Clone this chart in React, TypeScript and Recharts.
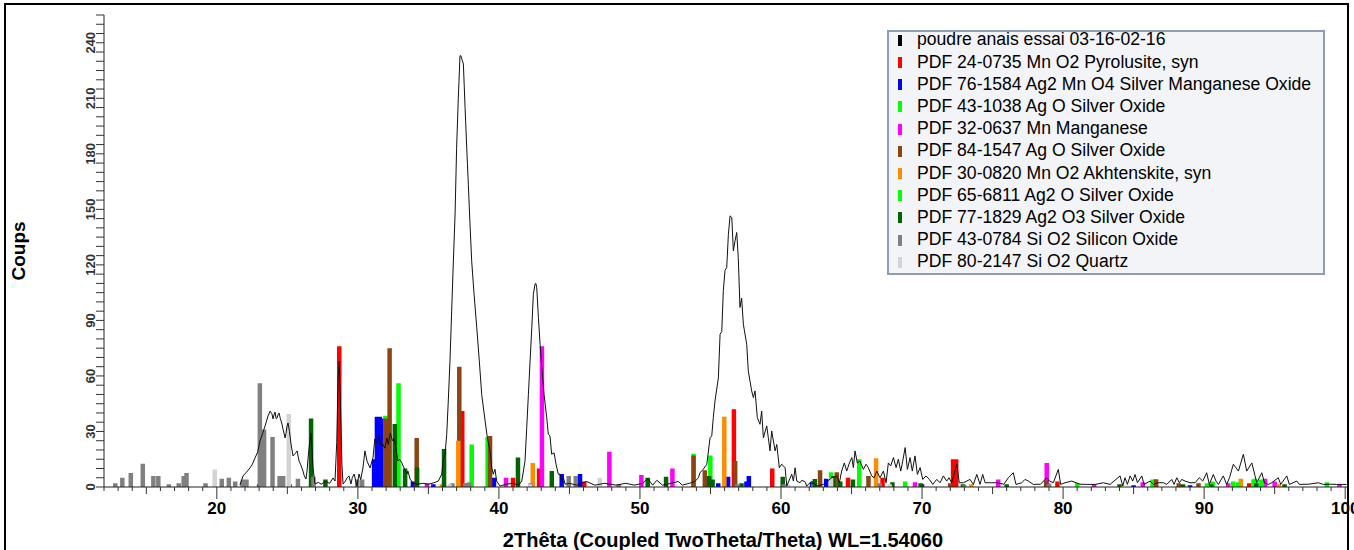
import React from 'react';
import { ComposedChart, Line, XAxis, YAxis, Legend } from 'recharts';

type Pt = [number, number];

// Measured diffractogram (2θ, counts)
const scan: Pt[] = [
  [21.64,1],[21.86,6],[22.1,8],[22.35,10.3],[22.5,12],[22.71,15.7],[22.9,19],[23.06,24.9],[23.25,29],[23.42,33],
  [23.63,38.4],[23.78,41],[23.91,39.5],[23.98,36.8],[24.06,39],[24.13,40.5],[24.2,37],[24.27,37.3],[24.34,39],[24.41,40],
  [24.5,37],[24.62,34],[24.7,31],[24.84,26.5],[24.9,29],[24.98,33],[25.05,34.6],[25.15,30],[25.26,23.2],[25.4,16.8],
  [25.55,18],[25.69,19.5],[25.83,14],[25.95,12],[26.11,8.6],[26.2,6],[26.32,4.3],[26.4,9],[26.47,15.7],[26.58,24],
  [26.68,29],[26.75,20],[26.82,10.3],[26.96,1.6],[27.2,2.5],[27.4,1.5],[27.7,3],[28.0,2],[28.24,4.9],[28.38,3.2],
  [28.5,24],[28.6,60],[28.68,68],[28.78,40],[28.87,12],[28.95,1.6],[29.1,3],[29.23,4.9],[29.37,6],[29.51,1.6],
  [29.6,5],[29.73,7],[29.94,0.5],[30.08,7],[30.2,4],[30.36,10.3],[30.5,19.5],[30.65,14],[30.86,10.3],[31.07,15.7],
  [31.2,26],[31.35,24],[31.5,27.6],[31.62,23],[31.76,23.2],[31.92,21],[32.06,26.5],[32.16,23],[32.3,29.2],[32.45,25],
  [32.55,26],[32.63,24],[32.75,18],[32.84,14],[32.95,15],[33.12,13],[33.27,10.3],[33.48,7],[33.55,8.6],[33.7,4.3],
  [33.9,2.2],[34.2,1.5],[34.6,2],[35.0,1.5],[35.35,2.2],[35.7,3.2],[35.95,7],[36.04,14],[36.18,17.7],[36.3,28.5],
  [36.41,46.5],[36.53,68],[36.65,95],[36.77,122],[36.89,147],[37.0,183],[37.12,210],[37.24,233],[37.3,233],[37.38,231],
  [37.48,228.5],[37.6,205],[37.72,183],[37.83,163.6],[37.95,142],[38.07,122],[38.24,104],[38.43,86],[38.61,68],[38.78,50],
  [39.02,35.7],[39.18,26.6],[39.37,19.5],[39.49,10.4],[39.6,6.9],[39.72,9.6],[39.84,3.2],[40.08,0.5],[40.5,1.5],[41.0,2],
  [41.4,1],[41.62,3.2],[41.85,14],[41.97,32],[42.09,50],[42.21,68],[42.33,86],[42.44,104],[42.56,109.6],[42.62,110],
  [42.68,107.7],[42.8,91.5],[42.92,77],[43.04,64.5],[43.2,50],[43.39,37.5],[43.5,28.5],[43.62,27.6],[43.74,17.7],[43.91,18.5],
  [44.05,12.3],[44.21,6.9],[44.33,6.9],[44.45,3.2],[44.57,5],[44.69,1.5],[45.0,2],[45.5,1],[46.2,3],[46.8,1],
  [47.5,2],[48.3,1],[49.0,2],[49.6,1],[50.2,2],[50.55,4.5],[50.9,1],[51.2,3.6],[51.6,1],[52.2,2],
  [52.72,3],[53.0,1],[53.5,2],[53.9,3],[54.14,5],[54.26,7.7],[54.49,9.6],[54.74,12.3],[54.97,26.6],[55.09,27.6],
  [55.2,37.5],[55.32,46.5],[55.56,59],[55.68,82.5],[55.8,84],[55.91,106],[56.03,117],[56.15,118.5],[56.27,136.6],[56.39,146.5],
  [56.51,145.6],[56.62,127.6],[56.74,133],[56.86,137.5],[56.97,124],[57.09,97],[57.21,102],[57.33,88],[57.57,77],[57.68,62.7],
  [57.92,51.9],[58.04,48.3],[58.16,51.9],[58.32,37.5],[58.51,33.9],[58.63,41],[58.75,26.6],[58.99,33],[59.1,26.6],[59.22,19.5],
  [59.34,30.3],[59.58,19.5],[59.7,23],[59.88,10.4],[60.05,12.3],[60.29,10.4],[60.41,0.5],[60.76,6.9],[60.88,3.2],[61.0,10.4],
  [61.12,3.2],[61.35,2.3],[61.47,3.6],[61.7,2.9],[61.82,0.5],[62.18,3.2],[62.53,0.5],[63.0,1.4],[63.6,5],[63.95,6],
  [64.14,2.3],[64.3,8.6],[64.49,13],[64.66,8.6],[64.85,13],[65.02,15.9],[65.13,10.5],[65.25,19.5],[65.41,13],[65.6,14],
  [65.84,9.5],[66.03,12.3],[66.19,10.5],[66.43,6],[66.6,5],[66.79,8.6],[67.02,5],[67.26,8.6],[67.45,2.3],[67.61,13],
  [67.78,11.4],[67.97,15.9],[68.16,10.5],[68.32,15],[68.49,8.6],[68.63,14],[68.8,21.3],[68.96,9.5],[69.15,15.9],[69.31,8.6],
  [69.5,16.8],[69.67,6.8],[69.86,10.5],[70.05,4.1],[70.28,6],[70.52,4.1],[70.76,1.4],[71.04,4.1],[71.28,2.3],[71.51,6],
  [71.75,3.2],[71.91,5],[72.1,2.3],[72.46,12.3],[72.64,2.3],[72.93,2.3],[73.4,4.1],[73.64,1.4],[73.88,6.8],[74.11,1.4],
  [74.3,6.8],[74.47,2.3],[74.94,2.3],[75.3,2.3],[75.8,1.5],[76.12,5],[76.47,7.7],[76.66,1.4],[77.07,2.3],[77.3,4.1],
  [77.54,3.2],[77.89,1.4],[78.4,1.5],[78.84,5],[79.03,3.2],[79.31,2.3],[79.66,9.5],[79.83,1.4],[80.14,2.3],[80.61,3.2],
  [81.2,1.5],[81.68,1.4],[82.27,1.4],[82.86,2.3],[83.33,1.4],[84.04,6],[84.23,0.5],[84.39,5],[84.56,1.4],[84.75,6],
  [84.94,3.2],[85.1,6.8],[85.27,2.3],[85.58,6],[85.74,1.4],[86.17,3.2],[86.4,1.4],[86.75,2.3],[87.11,2.3],[87.35,1.4],
  [87.7,4.1],[87.87,1.4],[88.06,5],[88.24,2.3],[88.41,4.1],[88.65,3.2],[89.0,2.3],[89.36,2.3],[89.66,5],[89.9,3.2],
  [90.18,7.7],[90.37,1.4],[90.65,6.8],[90.84,3.2],[91.01,1.4],[91.36,6],[91.6,1.4],[91.8,5],[92.07,12.3],[92.43,8.6],
  [92.78,17.7],[93.02,8.6],[93.38,13],[93.61,6],[93.73,2.3],[94.09,7.7],[94.27,2.3],[94.55,1.4],[94.79,2.3],[95.26,5],
  [95.43,1.4],[95.86,6],[96.04,1.4],[96.57,3.2],[96.75,1.4],[97.4,1.5],[98.1,2.3],[98.45,1.4],[99.0,1.5],[99.4,1.4],
  [100.1,1.4],
];

// Reference patterns (2θ, intensity on the counts scale)
const pyrolusite: Pt[] = [[28.68,76],[37.4,41],[41.0,5],[42.85,10],[46.05,3],[56.66,42],[59.38,10],[64.75,5],[67.2,5],[72.2,15],[72.42,15],[79.6,3],[86.55,4],[93.2,2]];
const ag2mno4: Pt[] = [[21.85,3],[23.0,1.5],[25.15,1.5],[31.15,15],[31.35,38],[31.55,38],[31.75,37],[33.9,3],[35.35,1.5],[39.65,5],[44.45,7],[45.75,7],[55.55,2],[56.25,5.5],[57.55,3],[57.72,6],[62.2,2.5],[63.2,4.5],[70.0,1.5],[85.0,1],[89.0,1]];
const ago43: Pt[] = [[31.95,38.5],[39.2,27],[53.8,18],[62.3,1.5],[63.55,8],[79.0,2],[86.35,4],[90.6,3],[92.05,3],[93.6,4.5],[94.0,4],[98.7,2.5]];
const manganese: Pt[] = [[34.9,2],[37.75,2],[40.5,5],[43.05,76],[47.83,19],[50.1,6.5],[52.3,10],[62.4,1.5],[64.1,1.5],[69.5,2.5],[75.4,4],[78.84,13],[82.2,1.5],[85.65,2.5],[91.7,2],[94.32,4.5],[95.0,3],[99.6,1.5]];
const ago84: Pt[] = [[31.95,37],[32.25,75],[34.17,26.5],[37.19,65],[39.37,27.5],[53.8,17],[54.6,9],[56.75,14],[62.77,9],[63.95,8],[66.2,6],[72.0,2],[78.8,3.5],[86.6,4],[88.2,2],[89.6,2]];
const akhtenskite: Pt[] = [[35.95,1.5],[37.12,25],[42.4,13],[55.98,38],[66.74,15.5],[73.5,1.5],[92.6,4.5],[95.3,1.5]];
const ag2o65: Pt[] = [[32.88,56],[38.07,23],[54.99,17],[65.55,15],[68.8,3],[81.0,2],[90.2,2],[92.4,2.5],[93.5,4],[94.1,3.5]];
const ag2o3: Pt[] = [[26.68,37],[27.7,4],[32.62,34],[33.35,10],[34.2,10.5],[36.11,20.5],[41.35,16],[43.75,8.6],[50.55,5],[51.85,5.6],[54.9,6],[55.15,4],[57.2,2],[60.12,5.5],[62.4,4.3],[63.7,6],[64.2,3],[65.1,4],[67.9,2.5],[69.9,2],[72.9,1.5],[76.0,1.5],[84.0,1.5],[88.5,1.5],[90.5,1.5],[93.7,2],[95.7,1.5]];
const sio2: Pt[] = [[12.8,2],[13.3,5],[13.9,7.5],[14.75,12.5],[15.5,6],[15.85,6],[16.6,1.5],[17.3,2],[17.65,6],[17.85,7.5],[19.2,2],[20.35,4.5],[20.85,5],[21.3,3],[21.85,4],[22.1,4],[23.05,56],[23.35,31],[23.95,27],[24.45,6],[24.7,6],[25.75,4.5],[26.85,5.5],[29.95,4],[30.3,4],[36.7,2],[37.6,2],[37.9,2.5],[42.25,2],[44.95,6],[45.45,6],[48.5,1.5],[56.9,1.5],[60.2,1.5],[67.0,2],[73.0,1],[79.0,1.5]];
const quartz: Pt[] = [[19.85,9.5],[25.1,39.5],[36.5,1.5],[42.2,1.5],[47.15,5],[60.5,1.5],[63.55,5],[67.7,1.5]];

const legendNames = [
  'poudre anais essai 03-16-02-16',
  'PDF 24-0735 Mn O2 Pyrolusite, syn',
  'PDF 76-1584 Ag2 Mn O4 Silver Manganese Oxide',
  'PDF 43-1038 Ag O Silver Oxide',
  'PDF 32-0637 Mn Manganese',
  'PDF 84-1547 Ag O Silver Oxide',
  'PDF 30-0820 Mn O2 Akhtenskite, syn',
  'PDF 65-6811 Ag2 O Silver Oxide',
  'PDF 77-1829 Ag2 O3 Silver Oxide',
  'PDF 43-0784 Si O2 Silicon Oxide',
  'PDF 80-2147 Si O2 Quartz',
];
const legendColors = ['#000000','#ff0000','#0000ff','#00ff00','#ff00ff','#8b4513','#ff8c00','#00ff00','#006400','#808080','#d3d3d3'];
const stickSets: Pt[][] = [pyrolusite, ag2mno4, ago43, manganese, ago84, akhtenskite, ag2o65, ag2o3, sio2, quartz];

const xTicks = Array.from({ length: 89 }, (_, i) => 12 + i);
const yTicks = Array.from({ length: 52 }, (_, i) => i * 5);

const FONT = '"Liberation Sans", Arial, Helvetica, sans-serif';

const toSticks = (pts: Pt[]) =>
  pts.flatMap(([x, v]) => [{ x, y: 0 }, { x, y: v }, { x, y: null }]);
const scanData = scan.map(([x, y]) => ({ x, y }));

const XTick = (props: any) => {
  const { x, y, payload } = props;
  const v = payload.value;
  const len = v % 10 === 0 ? 12 : v % 5 === 0 ? 7 : 4;
  return (
    <g>
      <line x1={x} x2={x} y1={y} y2={y + len} stroke="#333" strokeWidth={1} />
      {v % 10 === 0 && (
        <text x={x} y={y + 27} textAnchor="middle" fontSize={17} fontWeight="bold" fill="#000" fontFamily={FONT}>
          {v}
        </text>
      )}
    </g>
  );
};

const YTick = (props: any) => {
  const { x, y, payload } = props;
  const v = payload.value;
  return (
    <g>
      <line x1={x - 8} x2={x} y1={y} y2={y} stroke="#333" strokeWidth={1} />
      {v % 30 === 0 && (
        <text transform={`translate(${x - 9},${y}) rotate(-90)`} textAnchor="middle" fontSize={13} fontWeight="bold" fill="#333" fontFamily={FONT}>
          {v}
        </text>
      )}
    </g>
  );
};

const renderLegend = () => (
  <div style={{ position: 'relative', width: 438, height: 245, boxSizing: 'border-box', background: '#f3f4f7', border: '2px solid #8d9cb7', fontFamily: FONT }}>
    {legendNames.map((name, i) => {
      const cy = 9.3 + i * 22.2;
      return (
        <React.Fragment key={name}>
          <div style={{ position: 'absolute', left: 9, top: cy - 6.5, width: 4, height: 11, background: legendColors[i] }} />
          <div style={{ position: 'absolute', left: 28, top: cy - 13, height: 22, lineHeight: '22px', fontSize: 17.6, color: '#000', whiteSpace: 'nowrap' }}>
            {name}
          </div>
        </React.Fragment>
      );
    })}
  </div>
);

export default function App() {
  return (
    <div style={{ position: 'relative', width: 1354, height: 550, overflow: 'hidden', background: '#fff', fontFamily: FONT }}>
      <style>{'body{margin:0;}'}</style>
      <div style={{ position: 'absolute', left: 4, top: 3, width: 1345, height: 620, border: '2px solid #000', boxSizing: 'border-box', pointerEvents: 'none' }} />
      <ComposedChart width={1354} height={550} margin={{ top: 15, right: 6, bottom: 0, left: 0 }}>
        <XAxis
          type="number"
          dataKey="x"
          domain={[12, 100.2]}
          allowDataOverflow
          ticks={xTicks}
          interval={0}
          tick={<XTick />}
          tickLine={false}
          tickSize={0}
          tickMargin={0}
          height={63}
          axisLine={{ stroke: '#222' }}
          label={{
            content: (p: any) => {
              const vb = p.viewBox;
              return (
                <text x={vb.x + vb.width / 2 - 3} y={vb.y + 60} textAnchor="middle" fontSize={20} fontWeight="bold" fill="#000" fontFamily={FONT}>
                  2Thêta (Coupled TwoTheta/Theta) WL=1.54060
                </text>
              );
            },
          }}
        />
        <YAxis
          type="number"
          domain={[0, 255]}
          allowDataOverflow
          ticks={yTicks}
          interval={0}
          tick={<YTick />}
          tickLine={false}
          tickSize={0}
          tickMargin={0}
          width={104}
          axisLine={{ stroke: '#222' }}
          label={{
            content: (p: any) => {
              const vb = p.viewBox;
              return (
                <text transform={`translate(${vb.x + 25},${vb.y + vb.height / 2}) rotate(-90)`} textAnchor="middle" fontSize={19} fontWeight="bold" fill="#000" fontFamily={FONT}>
                  Coups
                </text>
              );
            },
          }}
        />
        <Legend
          content={renderLegend}
          layout="horizontal"
          align="center"
          verticalAlign="middle"
          wrapperStyle={{ left: 887, top: 30, width: 438, height: 245 }}
        />
        {stickSets.map((s, i) => (
          <Line
            key={legendNames[i + 1]}
            data={toSticks(s)}
            dataKey="y"
            type="linear"
            stroke={legendColors[i + 1]}
            strokeWidth={4.5}
            dot={false}
            activeDot={false}
            connectNulls={false}
            isAnimationActive={false}
          />
        ))}
        <Line
          data={scanData}
          dataKey="y"
          type="linear"
          stroke="#111"
          strokeWidth={1}
          dot={false}
          activeDot={false}
          isAnimationActive={false}
        />
      </ComposedChart>
    </div>
  );
}
